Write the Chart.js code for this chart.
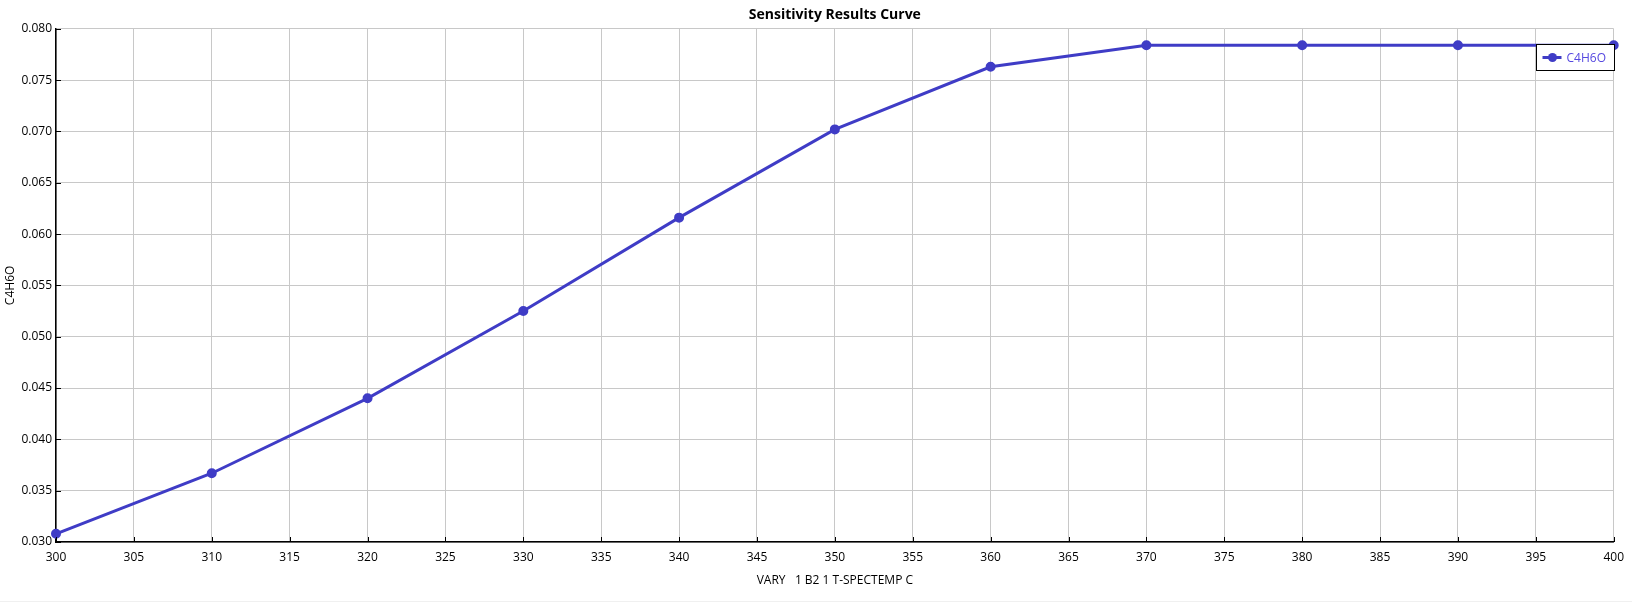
<!DOCTYPE html>
<html>
<head>
<meta charset="utf-8">
<script src="https://cdn.jsdelivr.net/npm/chart.js@4.4.1/dist/chart.umd.min.js"></script>
<style>
    html, body { margin:0; padding:0; background:#fff; }
    #wrap { width:1632px; height:602px; box-sizing:border-box; border-bottom:1px solid #f0f0f0; }
</style>
</head>
<body>
<div id="wrap"><canvas id="chart"></canvas></div>
<script>
// values
const temps = [300, 310, 320, 330, 340, 350, 360, 370, 380, 390, 400];
const c4h6o = [0.0308, 0.0367, 0.0440, 0.0525, 0.0616, 0.0702, 0.0763, 0.0784, 0.0784, 0.0784, 0.0784];
const seriesName = 'C4H6O';
const xTitle = 'VARY   1 B2 1 T-SPECTEMP C';
const yTitle = 'C4H6O';
const chartTitle = 'Sensitivity Results Curve';

const lineColor = '#3f3cc6';
const legendText = '#5548e0';
const font = '"Open Sans", "Noto Sans", sans-serif';

// short tick marks pointing into the plot
const innerTicks = {
    id: 'innerTicks',
    afterDatasetsDraw(chart) {
        const { ctx, chartArea, scales } = chart;
        ctx.save();
        ctx.strokeStyle = '#000';
        ctx.lineWidth = 1;
        ctx.beginPath();
        scales.x.ticks.forEach(t => {
            const px = Math.round(scales.x.getPixelForValue(t.value)) + 0.5;
            ctx.moveTo(px, chartArea.bottom);
            ctx.lineTo(px, chartArea.bottom - 5);
        });
        scales.y.ticks.forEach(t => {
            const py = Math.round(scales.y.getPixelForValue(t.value)) + 0.5;
            ctx.moveTo(chartArea.left, py);
            ctx.lineTo(chartArea.left + 5, py);
        });
        ctx.stroke();
        ctx.restore();
    }
};

// boxed legend sitting inside the top-right corner of the plot
const boxLegend = {
    id: 'boxLegend',
    afterDraw(chart) {
        const { ctx, chartArea } = chart;
        const ds = chart.data.datasets[0];
        ctx.save();
        ctx.font = '12px ' + font;
        const tw = ctx.measureText(ds.label).width;
        const w = Math.round(tw + 39), h = 26;
        const x = Math.round(chartArea.right - w) + 0.5;
        const y = Math.round(chartArea.top + 15) + 0.5;
        ctx.fillStyle = '#fff';
        ctx.fillRect(x, y, w, h);
        ctx.strokeStyle = '#000';
        ctx.lineWidth = 1;
        ctx.strokeRect(x, y, w, h);
        const cy = y + h / 2;
        ctx.strokeStyle = ds.borderColor;
        ctx.lineWidth = 3;
        ctx.beginPath();
        ctx.moveTo(x + 6, cy);
        ctx.lineTo(x + 25, cy);
        ctx.stroke();
        ctx.fillStyle = ds.borderColor;
        ctx.beginPath();
        ctx.arc(x + 16, cy, 4.5, 0, Math.PI * 2);
        ctx.fill();
        ctx.fillStyle = legendText;
        ctx.textBaseline = 'middle';
        ctx.fillText(ds.label, x + 30, cy + 1);
        ctx.restore();
    }
};

new Chart(document.getElementById('chart'), {
    type: 'line',
    data: {
        datasets: [{
            label: seriesName,
            data: temps.map((t, i) => ({ x: t, y: c4h6o[i] })),
            borderColor: lineColor,
            backgroundColor: lineColor,
            borderWidth: 3,
            pointRadius: 3.5,
            pointHoverRadius: 3.5,
            tension: 0,
            clip: false
        }]
    },
    options: {
        responsive: true,
        maintainAspectRatio: false,
        animation: false,
        events: [],
        layout: { padding: { left: 0, right: 16, top: 0, bottom: 0 } },
        plugins: {
            legend: { display: false },
            tooltip: { enabled: false },
            title: {
                display: true,
                fullSize: false,
                text: chartTitle,
                color: '#000',
                font: { family: font, size: 14, weight: 'bold' },
                padding: { top: 7, bottom: 5 }
            }
        },
        scales: {
            x: {
                type: 'linear',
                min: 300,
                max: 400,
                afterFit: s => { s.height = 59; },
                ticks: { stepSize: 5, color: '#000', padding: 8, maxRotation: 0, font: { family: font, size: 12 } },
                grid: { color: '#c8c8c8', drawTicks: false },
                border: { display: true, color: '#000', width: 1.5 },
                title: { display: true, text: xTitle, color: '#000', font: { family: font, size: 12 }, padding: { top: 4, bottom: 13 } }
            },
            y: {
                min: 0.03,
                max: 0.08,
                afterFit: s => { s.width = 56; },
                ticks: {
                    stepSize: 0.005,
                    color: '#000',
                    padding: 4,
                    font: { family: font, size: 12 },
                    callback: v => v.toFixed(3)
                },
                grid: { color: '#c8c8c8', drawTicks: false },
                border: { display: true, color: '#000', width: 1.5 },
                title: { display: true, text: yTitle, color: '#000', font: { family: font, size: 12 }, padding: { top: 3, bottom: 3 } }
            }
        }
    },
    plugins: [innerTicks, boxLegend]
});
</script>
</body>
</html>
